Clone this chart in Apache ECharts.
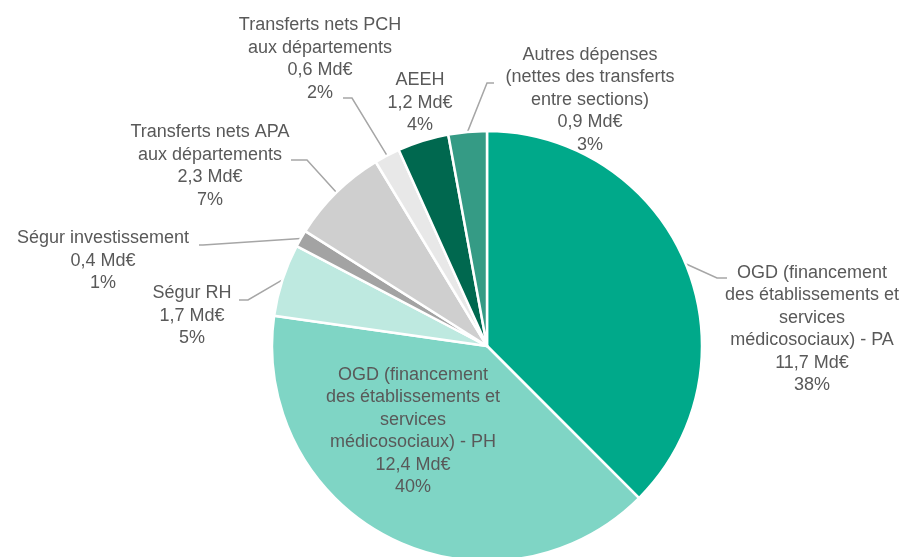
<!DOCTYPE html>
<html>
<head>
<meta charset="utf-8">
<script src="https://cdn.jsdelivr.net/npm/echarts@6/dist/echarts.min.js"></script>
<style>
  html, body { margin: 0; padding: 0; background: #fff; }
  #chart { width: 907px; height: 557px; }
</style>
</head>
<body>
<div id="chart"></div>
<script>
// libellés (avec retours à la ligne comme dans le graphique d'origine)
var categories = [
    'OGD (financement\ndes établissements et\nservices\nmédicosociaux) - PA',
    'OGD (financement\ndes établissements et\nservices\nmédicosociaux) - PH',
    'Ségur RH',
    'Ségur investissement',
    'Transferts nets APA\naux départements',
    'Transferts nets PCH\naux départements',
    'AEEH',
    'Autres dépenses\n(nettes des transferts\nentre sections)'
];
// montants en Md€
var amounts = [11.7, 12.4, 1.7, 0.4, 2.3, 0.6, 1.2, 0.9];
// parts affichées
var shares = [38, 40, 5, 1, 7, 2, 4, 3];

var colors = ['#00A98A', '#7FD5C5', '#BEE9E0', '#A3A3A3', '#CFCFCF', '#E8E8E8', '#00684F', '#359B85'];
var CX = 487, CY = 346, R = 215;
// centre des étiquettes (px)
var labelPos = [[812, 329], [413, 431], [192, 316], [103, 261], [210, 166], [320, 59], [420, 103], [590, 100]];
// coude et extrémité des traits de rappel (null = pas de trait)
var guide = [
    [[717, 278], [727, 278]],
    null,
    [[248, 300], [239, 300]],
    [[203, 245], [199, 245]],
    [[307, 160], [291, 160]],
    [[352, 98], [343, 98]],
    null,
    [[487, 83], [494, 83]]
];

var total = amounts.reduce(function (a, b) { return a + b; }, 0);
function edgePoint(idx) {
    var before = 0;
    for (var k = 0; k < idx; k++) before += amounts[k];
    var mid = (before + amounts[idx] / 2) / total * Math.PI * 2;
    return [CX + R * Math.sin(mid), CY - R * Math.cos(mid)];
}

var myChart = echarts.init(document.getElementById('chart'));

var pieData = [];
for (var i = 0; i < categories.length; i++) {
    var item = {
        name: categories[i],
        value: amounts[i],
        itemStyle: { color: colors[i] }
    };
    if (i === 1) item.label = { position: 'inside' };
    if (!guide[i]) item.labelLine = { show: false };
    pieData.push(item);
}

var option = {
    animation: false,
    series: [{
        type: 'pie',
        center: [CX, CY],
        radius: R,
        startAngle: 90,
        clockwise: true,
        itemStyle: { borderColor: '#fff', borderWidth: 2.5 },
        label: {
            show: true,
            position: 'outside',
            color: '#595959',
            fontFamily: 'Liberation Sans, Arial, sans-serif',
            fontSize: 18,
            lineHeight: 22.5,
            align: 'center',
            formatter: function (p) {
                var i = p.dataIndex;
                return categories[i] + '\n' + String(amounts[i]).replace('.', ',') + ' Md€\n' + shares[i] + '%';
            }
        },
        labelLine: {
            show: true,
            length: 12,
            length2: 10,
            lineStyle: { color: '#A6A6A6', width: 1.5 }
        },
        labelLayout: function (params) {
            var idx = params.dataIndex;
            var pos = labelPos[idx];
            var res = {
                x: pos[0],
                y: pos[1],
                align: 'center',
                verticalAlign: 'middle'
            };
            if (guide[idx]) {
                res.labelLinePoints = [edgePoint(idx), guide[idx][0], guide[idx][1]];
            }
            return res;
        },
        data: pieData
    }]
};

myChart.setOption(option);
</script>
</body>
</html>
